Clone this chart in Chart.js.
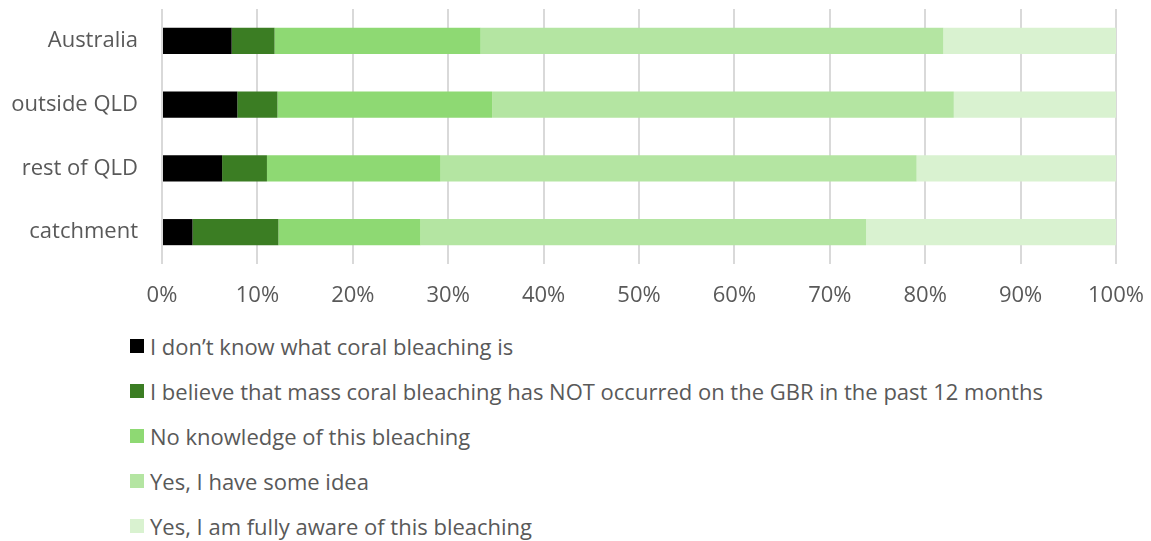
<!DOCTYPE html>
<html>
<head>
<meta charset="utf-8">
<script src="https://cdn.jsdelivr.net/npm/chart.js@4/dist/chart.umd.min.js"></script>
<style>
  html, body { margin: 0; padding: 0; background: #fff; }
  #wrap { position: relative; width: 1151px; height: 541px; }
  #box { position: absolute; left: 0; top: 0; width: 1151px; height: 310px; }
  #legend { position: absolute; left: 130px; top: 324px; font-family: "Open Sans", sans-serif; font-size: 22px; color: #595959; }
  .item { display: flex; align-items: center; height: 44.8px; white-space: nowrap; }
  .sw { width: 14px; height: 14px; margin-right: 6px; flex: none; }
</style>
</head>
<body>
<div id="wrap">
  <div id="box"><canvas id="c"></canvas></div>
  <div id="legend"></div>
</div>
<script>
const categories = ["Australia", "outside QLD", "rest of QLD", "catchment"];
const seriesNames = [
  "I don\u2019t know what coral bleaching is",
  "I believe that mass coral bleaching has NOT occurred on the GBR in the past 12 months",
  "No knowledge of this bleaching",
  "Yes, I have some idea",
  "Yes, I am fully aware of this bleaching"
];
const dontKnow   = [7.3, 7.9, 6.3, 3.2];
const believeNot = [4.5, 4.2, 4.7, 9.0];
const noKnowledge = [21.6, 22.5, 18.2, 14.9];
const someIdea   = [48.5, 48.4, 49.9, 46.7];
const fullyAware = [18.1, 17.0, 20.9, 26.2];
const colors = ["#000000", "#3b7d23", "#8ed973", "#b4e5a2", "#d9f2d0"];
const xTicks = [0, 10, 20, 30, 40, 50, 60, 70, 80, 90, 100];

const seriesValues = [dontKnow, believeNot, noKnowledge, someIdea, fullyAware];
const datasets = seriesValues.map((v, i) => ({
  label: seriesNames[i],
  data: v,
  backgroundColor: colors[i],
  borderWidth: 0,
  categoryPercentage: 1,
  barPercentage: 0.41
}));

const font = { family: "Open Sans", size: 22 };
const chart = new Chart(document.getElementById("c"), {
  type: "bar",
  data: { labels: categories, datasets },
  options: {
    indexAxis: "y",
    responsive: true,
    maintainAspectRatio: false,
    animation: false,
    layout: { padding: { top: 9, right: 35, left: 0, bottom: 0 } },
    plugins: { legend: { display: false }, tooltip: { enabled: false } },
    scales: {
      x: {
        stacked: true,
        min: 0, max: 100,
        afterBuildTicks: s => { s.ticks = xTicks.map(v => ({ value: v })); },
        afterFit: s => { s.height = 46; s.paddingLeft = 0; s.paddingRight = 0; },
        border: { display: false },
        grid: { color: "#d9d9d9", lineWidth: 2, drawTicks: false },
        ticks: { padding: 19, color: "#595959", font, callback: v => v + "%" }
      },
      y: {
        stacked: true,
        afterFit: s => { s.width = 162; s.paddingTop = 0; s.paddingBottom = 0; },
        border: { display: false },
        grid: { display: false, drawTicks: true, tickLength: 24 },
        ticks: { padding: 0, color: "#595959", font }
      }
    }
  }
});

const leg = document.getElementById("legend");
chart.data.datasets.forEach(ds => {
  const it = document.createElement("div");
  it.className = "item";
  const sw = document.createElement("span");
  sw.className = "sw";
  sw.style.background = ds.backgroundColor;
  const tx = document.createElement("span");
  tx.textContent = ds.label;
  it.appendChild(sw); it.appendChild(tx);
  leg.appendChild(it);
});
</script>
</body>
</html>
